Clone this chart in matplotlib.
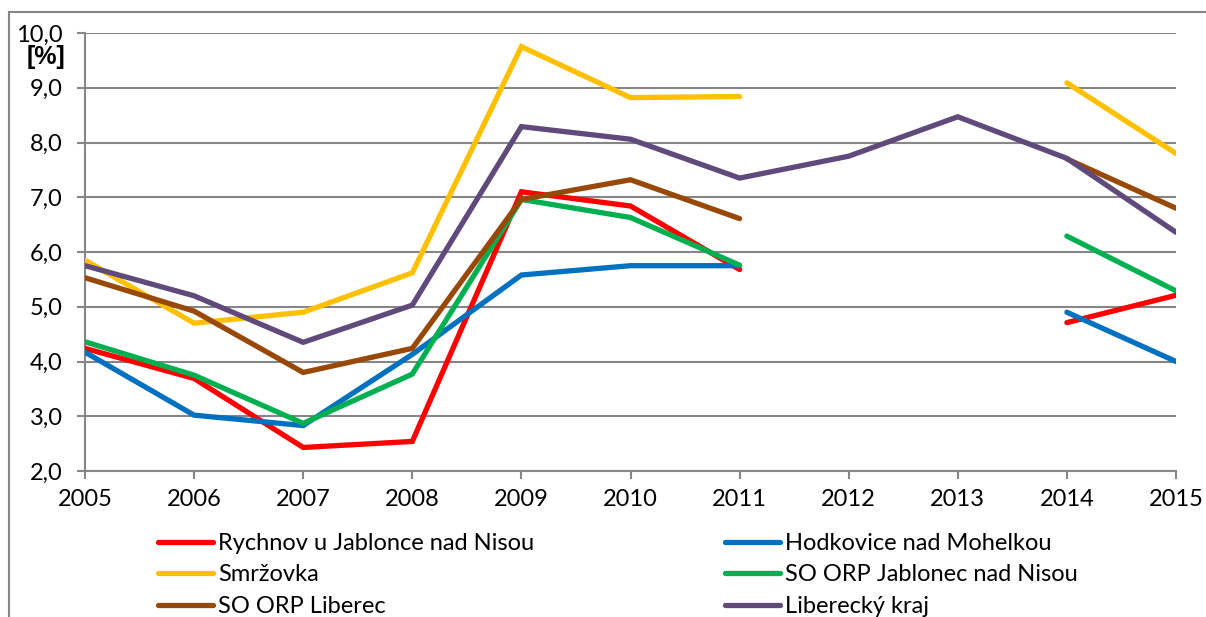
import numpy as np
import matplotlib
matplotlib.use("Agg")
import matplotlib.pyplot as plt
from matplotlib.patches import Rectangle

nan = np.nan
years = [2005, 2006, 2007, 2008, 2009, 2010, 2011, 2012, 2013, 2014, 2015]
rychnov = [4.24, 3.69, 2.43, 2.54, 7.10, 6.84, 5.68, nan, nan, 4.71, 5.21]
hodkovice = [4.17, 3.02, 2.83, 4.13, 5.58, 5.75, 5.75, nan, nan, 4.90, 4.00]
smrzovka = [5.85, 4.70, 4.90, 5.62, 9.75, 8.82, 8.84, nan, nan, 9.09, 7.80]
orp_jablonec = [4.36, 3.75, 2.87, 3.77, 6.96, 6.63, 5.76, nan, nan, 6.29, 5.29]
orp_liberec = [5.53, 4.92, 3.80, 4.24, 6.96, 7.32, 6.61, nan, nan, 7.70, 6.80]
liberecky = [5.75, 5.20, 4.35, 5.03, 8.29, 8.06, 7.35, 7.75, 8.47, 7.71, 6.36]

names = ["Rychnov u Jablonce nad Nisou", "Hodkovice nad Mohelkou", "Smržovka",
         "SO ORP Jablonec nad Nisou", "SO ORP Liberec", "Liberecký kraj"]
series = [rychnov, hodkovice, smrzovka, orp_jablonec, orp_liberec, liberecky]
colors = ["#FF0000", "#0070C0", "#FFC000", "#00B050", "#984807", "#604A7B"]
yticks = [2.0, 3.0, 4.0, 5.0, 6.0, 7.0, 8.0, 9.0, 10.0]
ytick_labels = ["2,0", "3,0", "4,0", "5,0", "6,0", "7,0", "8,0", "9,0", "10,0"]
unit_label = "[%]"

plt.rcParams['font.family'] = ['Lato', 'DejaVu Sans']

W, H = 1206, 617
FS = 17
fig = plt.figure(figsize=(W / 100, H / 100), dpi=100)
ax = fig.add_axes([85 / W, 1 - 471 / H, (1176 - 85) / W, (471 - 33) / H])

grid_c = "#868686"
for yv in yticks:
    ax.axhline(yv, color=grid_c, lw=1.5, zorder=1)

handles = []
for name, vals, c in zip(names, series, colors):
    h, = ax.plot(years, vals, color=c, lw=3.8, label=name, zorder=3,
                 solid_joinstyle='miter', solid_capstyle='round')
    handles.append(h)

ax.set_xlim(2005, 2015)
ax.set_ylim(2, 10)
ax.set_xticks(years)
ax.set_xticklabels([str(y) for y in years])
ax.set_yticks(yticks)
ax.set_yticklabels(ytick_labels)
for s in ['top', 'right']:
    ax.spines[s].set_visible(False)
for s in ['left', 'bottom']:
    ax.spines[s].set_color(grid_c)
    ax.spines[s].set_linewidth(1.5)
ax.tick_params(axis='both', colors=grid_c, width=1.5, length=6, labelcolor='black',
               labelsize=FS)
ax.tick_params(axis='y', pad=10)
ax.tick_params(axis='x', pad=7)

fig.text(46 / W, 1 - 57 / H, unit_label, ha='center', va='center',
         fontsize=FS + 1, fontweight='bold',
         family=['Liberation Sans', 'DejaVu Sans'])

leg_kw = dict(loc='upper left', frameon=False, fontsize=FS, handlelength=2.33,
              handletextpad=0.21, labelspacing=0.44, borderaxespad=0, borderpad=0)
leg1 = fig.legend([handles[i] for i in (0, 2, 4)], [names[i] for i in (0, 2, 4)],
                  bbox_to_anchor=(158 / W, 1 - 533 / H), **leg_kw)
leg2 = fig.legend([handles[i] for i in (1, 3, 5)], [names[i] for i in (1, 3, 5)],
                  bbox_to_anchor=(725 / W, 1 - 533 / H), **leg_kw)

fig.patches.append(Rectangle((9 / W, -0.2), 1.2, (1 - 12 / H) + 0.2,
                             transform=fig.transFigure, fill=False,
                             edgecolor=grid_c, lw=1.5))

fig.savefig("out.png", dpi=100)
